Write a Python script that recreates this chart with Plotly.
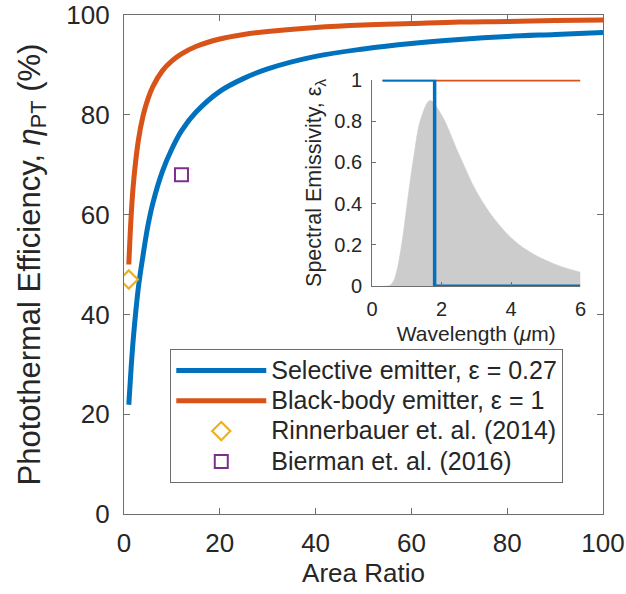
import plotly.graph_objects as go

# Main panel data
area_ratio = [1, 1.5, 2, 3, 4, 5, 6, 8, 10, 12, 15, 20, 25, 30, 40, 50, 60, 70, 80, 90, 100]
eff_selective = [21.9, 29.5, 35.8, 45.4, 52.0, 57.8, 62.2, 68.6, 73.2, 76.8, 80.5, 84.7, 87.3, 89.2, 91.7, 93.2, 94.3, 95.1, 95.7, 96.1, 96.5]
eff_blackbody = [50.0, 59.9, 66.6, 74.9, 79.9, 83.2, 85.6, 88.8, 90.8, 92.2, 93.7, 95.2, 96.1, 96.7, 97.5, 98.0, 98.3, 98.6, 98.7, 98.9, 99.0]

rinner_x = [1]
rinner_y = [47]
bierman_x = [12]
bierman_y = [68]

legend_names = ["Selective emitter, ε = 0.27", "Black-body emitter, ε = 1",
                "Rinnerbauer et. al. (2014)", "Bierman et. al. (2016)"]

# Inset data
sel_wl = [0.3, 1.8, 1.8, 6.0]
sel_em = [1, 1, 0, 0]
bb_wl = [0.3, 6.0]
bb_em = [1, 1]
spec_wl = [0.3, 0.5, 0.6, 0.7, 0.8, 0.9, 1.0, 1.2, 1.4, 1.67, 2.0, 2.5, 3.0, 3.5, 4.0, 4.5, 5.0, 5.5, 6.0]
spec_val = [0.0, 0.003, 0.02, 0.068, 0.15, 0.26, 0.39, 0.63, 0.81, 0.90, 0.83, 0.64, 0.46, 0.33, 0.235, 0.17, 0.125, 0.092, 0.068]

BLUE = "#0072BD"
ORANGE = "#D95319"
YELLOW = "#EDB120"
PURPLE = "#7E2F8E"
TXT = "#262626"
AX = "#6e6e6e"
FONT = "Liberation Sans, Arial, sans-serif"


def lg(name):
    return '<span style="font-size:25px">' + name + '</span>'


fig = go.Figure()
fig.add_trace(go.Scatter(x=area_ratio, y=eff_selective, mode="lines", line=dict(color=BLUE, width=5, shape="spline"),
                         name=lg(legend_names[0])))
fig.add_trace(go.Scatter(x=area_ratio, y=eff_blackbody, mode="lines", line=dict(color=ORANGE, width=5, shape="spline"),
                         name=lg(legend_names[1])))
fig.add_trace(go.Scatter(x=rinner_x, y=rinner_y, mode="markers",
                         marker=dict(symbol="diamond-open", size=14, color=YELLOW, line=dict(width=2.2, color=YELLOW)),
                         name=lg(legend_names[2])))
fig.add_trace(go.Scatter(x=bierman_x, y=bierman_y, mode="markers",
                         marker=dict(symbol="square-open", size=13, color=PURPLE, line=dict(width=2, color=PURPLE)),
                         name=lg(legend_names[3])))

# Inset
fig.add_trace(go.Scatter(x=spec_wl, y=spec_val, mode="lines", fill="tozeroy", fillcolor="#cccccc",
                         line=dict(color="#cccccc", width=0.5, shape="spline"), xaxis="x2", yaxis="y2", showlegend=False))
fig.add_trace(go.Scatter(x=bb_wl, y=bb_em, mode="lines", line=dict(color=ORANGE, width=3.5),
                         xaxis="x2", yaxis="y2", showlegend=False))
fig.add_trace(go.Scatter(x=sel_wl, y=sel_em, mode="lines", line=dict(color=BLUE, width=3.5),
                         xaxis="x2", yaxis="y2", showlegend=False))

axis_common = dict(showgrid=False, zeroline=False, showline=True, linecolor=AX, linewidth=1.2, automargin=False,
                   ticks="inside", tickcolor=AX, tickfont=dict(family=FONT, size=26, color=TXT))

fig.update_layout(
    width=626, height=594,
    margin=dict(l=124, r=23, t=15, b=80),
    plot_bgcolor="white", paper_bgcolor="white",
    font=dict(family=FONT, color=TXT),
    xaxis=dict(**axis_common, range=[0, 100], tickvals=[0, 20, 40, 60, 80, 100], mirror="ticks", ticklen=6,
               ticklabelstandoff=6,
               title=dict(text="Area Ratio", font=dict(family=FONT, size=26, color=TXT), standoff=4)),
    yaxis=dict(**axis_common, range=[0, 100], tickvals=[0, 20, 40, 60, 80, 100], mirror="ticks", ticklen=6,
               ticklabelstandoff=8,
               title=dict(text="Photothermal Efficiency, <i>η</i><sub>PT</sub> (%)", font=dict(family=FONT, size=31, color=TXT), standoff=16)),
    xaxis2=dict(showgrid=False, zeroline=False, showline=True, linecolor=AX, linewidth=1, ticks="inside", ticklen=4, tickcolor=AX,
                domain=[0.518, 0.953], anchor="y2", range=[0, 6], tickvals=[0, 2, 4, 6], automargin=False,
                ticklabelstandoff=5,
                tickfont=dict(family=FONT, size=20, color=TXT),
                title=dict(text="Wavelength (<i>μ</i>m)", font=dict(family=FONT, size=21, color=TXT), standoff=7)),
    yaxis2=dict(showgrid=False, zeroline=False, showline=True, linecolor=AX, linewidth=1, ticks="inside", ticklen=4, tickcolor=AX,
                domain=[0.4566, 0.87], anchor="x2", range=[0, 1], tickvals=[0, 0.2, 0.4, 0.6, 0.8, 1], automargin=False,
                ticklabelstandoff=5,
                tickfont=dict(family=FONT, size=20, color=TXT),
                title=dict(text="Spectral Emissivity, ε<sub>λ</sub>", font=dict(family=FONT, size=21.5, color=TXT), standoff=6)),
    legend=dict(x=0.0966, y=0.33, xanchor="left", yanchor="top", bgcolor="white", bordercolor=AX, borderwidth=1,
                font=dict(family=FONT, size=21, color=TXT), tracegroupgap=0, itemwidth=90,
                entrywidth=300, entrywidthmode="pixels"),
)

fig.write_html("out.html")
